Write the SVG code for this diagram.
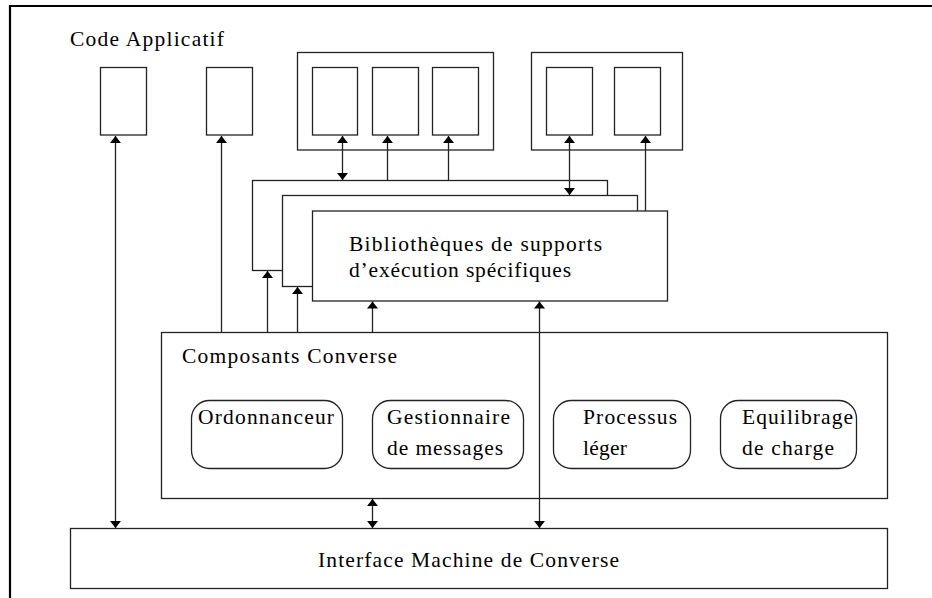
<svg xmlns="http://www.w3.org/2000/svg" width="932" height="598" viewBox="0 0 932 598">
<style>
.b{fill:#fff;stroke:#222;stroke-width:1.3}
.f{fill:none;stroke:#000;stroke-width:2.2}
.t{font-family:'Liberation Serif','Times New Roman',serif;font-size:21.5px;fill:#000}
.c{fill:none;stroke:#222;stroke-width:1.3}
</style>
<defs>
<marker id="ah" markerUnits="userSpaceOnUse" markerWidth="8" markerHeight="12" refX="7" refY="6" orient="auto-start-reverse">
<path d="M0,0.5 L7,6 L0,11.5 z" fill="#000"/>
</marker>
</defs>
<rect width="932" height="598" fill="#fff"/>
<path class="f" d="M10,600 V6 H940"/>
<g id="code-applicatif">
<text class="t" x="70" y="46" textLength="154" lengthAdjust="spacing">Code Applicatif</text>
<rect id="app1" class="b" x="100.5" y="67.5" width="46" height="67.5"/>
<rect id="app2" class="b" x="206.5" y="67.5" width="46" height="67.5"/>
</g>
<g id="groupe1">
<rect class="b" x="297.5" y="52.5" width="196" height="97.5"/>
<rect class="b" x="312.5" y="67.5" width="45" height="67.5"/>
<rect class="b" x="372.5" y="67.5" width="46" height="67.5"/>
<rect class="b" x="432.5" y="67.5" width="46" height="67.5"/>
</g>
<g id="groupe2">
<rect class="b" x="531.5" y="52.5" width="151" height="97.5"/>
<rect class="b" x="546.5" y="67.5" width="46" height="67.5"/>
<rect class="b" x="614.5" y="67.5" width="46" height="67.5"/>
</g>
<g id="bibliotheques">
<rect class="b" x="252.5" y="180.5" width="355" height="90"/>
<rect class="b" x="282.5" y="195.5" width="355" height="91"/>
<rect class="b" x="312.5" y="211" width="355" height="90"/>
<text class="t" x="349" y="251" textLength="253" lengthAdjust="spacing">Bibliothèques de supports</text>
<text class="t" x="349" y="277" textLength="222" lengthAdjust="spacing">d’exécution spécifiques</text>
</g>
<g id="composants">
<rect class="b" x="161.5" y="332.5" width="726" height="166"/>
<text class="t" x="182" y="363" textLength="215" lengthAdjust="spacing">Composants Converse</text>
</g>
<g id="ordonnanceur">
<rect class="b" x="191.5" y="400.5" width="151" height="68" rx="18"/>
<text class="t" x="198" y="424" textLength="136" lengthAdjust="spacing">Ordonnanceur</text>
</g>
<g id="gestionnaire">
<rect class="b" x="372.5" y="400.5" width="151" height="68" rx="18"/>
<text class="t" x="387" y="424" textLength="123" lengthAdjust="spacing">Gestionnaire</text>
<text class="t" x="387" y="455" textLength="116" lengthAdjust="spacing">de messages</text>
</g>
<g id="processus">
<rect class="b" x="553.5" y="400.5" width="137" height="68" rx="18"/>
<text class="t" x="583" y="424" textLength="94" lengthAdjust="spacing">Processus</text>
<text class="t" x="583" y="455" textLength="44" lengthAdjust="spacing">léger</text>
</g>
<g id="equilibrage">
<rect class="b" x="720.5" y="400.5" width="136" height="68" rx="18"/>
<text class="t" x="742" y="424" textLength="111" lengthAdjust="spacing">Equilibrage</text>
<text class="t" x="742" y="455" textLength="92" lengthAdjust="spacing">de charge</text>
</g>
<g id="interface">
<rect class="b" x="70.5" y="528.5" width="817" height="60"/>
<text class="t" x="318" y="567" textLength="301" lengthAdjust="spacing">Interface Machine de Converse</text>
</g>
<g id="connecteurs" class="c">
<line x1="115.5" y1="136" x2="115.5" y2="528" marker-start="url(#ah)" marker-end="url(#ah)"/>
<line x1="221.5" y1="332" x2="221.5" y2="136" marker-end="url(#ah)"/>
<line x1="342.5" y1="136" x2="342.5" y2="180" marker-start="url(#ah)" marker-end="url(#ah)"/>
<line x1="387.5" y1="180" x2="387.5" y2="136" marker-end="url(#ah)"/>
<line x1="448.5" y1="180" x2="448.5" y2="136" marker-end="url(#ah)"/>
<line x1="569.5" y1="136" x2="569.5" y2="195" marker-start="url(#ah)" marker-end="url(#ah)"/>
<line x1="645.5" y1="211" x2="645.5" y2="136" marker-end="url(#ah)"/>
<line x1="267.5" y1="332" x2="267.5" y2="271" marker-end="url(#ah)"/>
<line x1="297.5" y1="332" x2="297.5" y2="287" marker-end="url(#ah)"/>
<line x1="372.5" y1="332" x2="372.5" y2="301.5" marker-end="url(#ah)"/>
<line x1="539.5" y1="301.5" x2="539.5" y2="528" marker-start="url(#ah)" marker-end="url(#ah)"/>
<line x1="372.5" y1="499" x2="372.5" y2="528" marker-start="url(#ah)" marker-end="url(#ah)"/>
</g>
</svg>
